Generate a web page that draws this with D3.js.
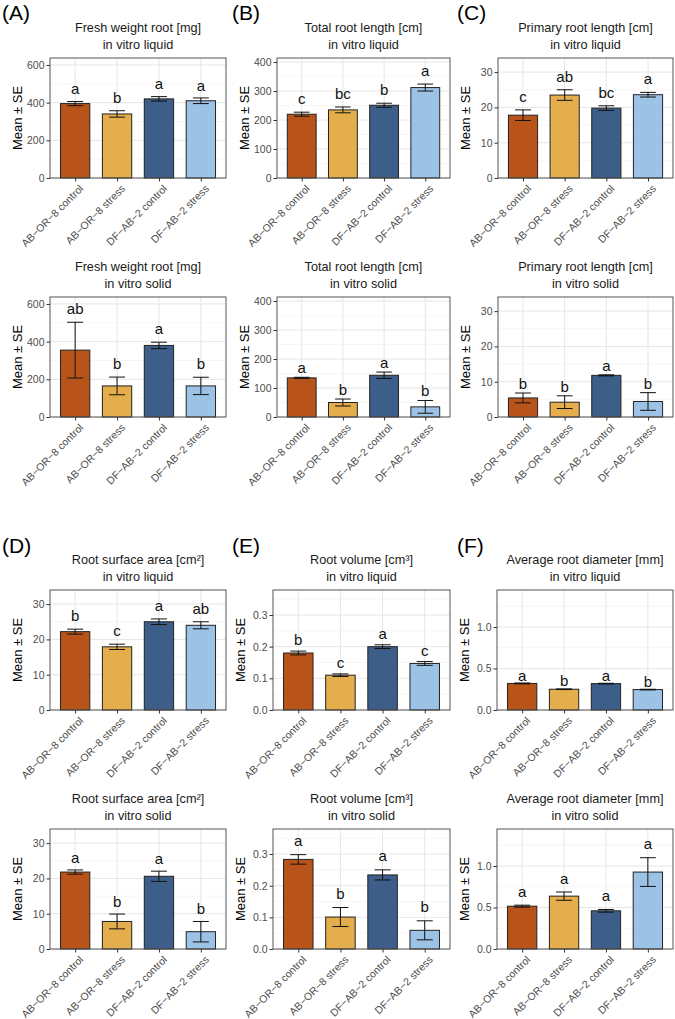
<!DOCTYPE html>
<html>
<head>
<meta charset="utf-8">
<script src="https://cdn.jsdelivr.net/npm/d3@7"></script>
<style>
  body { margin: 0; background: #fff; }
  svg { display: block; font-family: "Liberation Sans", Arial, sans-serif; }
</style>
</head>
<body>
<div id="root"></div>
<script>
// groups and colours
const groups = ["AB−OR−8 control", "AB−OR−8 stress", "DF−AB−2 control", "DF−AB−2 stress"]
const groupColors = ["#b8541a", "#e5ae4d", "#3c5e88", "#9cc2e6"]

// y axis ticks per variable
const freshTicks = [0, 200, 400, 600]
const totalTicks = [0, 100, 200, 300, 400]
const primaryTicks = [0, 10, 20, 30]
const surfaceTicks = [0, 10, 20, 30]
const volumeTicks = [0, 0.1, 0.2, 0.3]
const diameterTicks = [0, 0.5, 1.0]

// means, standard errors and letters
const freshLiquidMean = [395, 340, 420, 410]
const freshLiquidSE = [11, 17, 12, 15]
const freshLiquidLetters = ["a", "b", "a", "a"]
const freshSolidMean = [355, 165, 380, 165]
const freshSolidSE = [148, 47, 17, 46]
const freshSolidLetters = ["ab", "b", "a", "b"]

const totalLiquidMean = [220, 235, 251, 312]
const totalLiquidSE = [7, 10, 7, 12]
const totalLiquidLetters = ["c", "bc", "b", "a"]
const totalSolidMean = [135, 50, 144, 35]
const totalSolidSE = [2, 12, 11, 22]
const totalSolidLetters = ["a", "b", "a", "b"]

const primaryLiquidMean = [17.8, 23.5, 19.8, 23.6]
const primaryLiquidSE = [1.5, 1.5, 0.66, 0.66]
const primaryLiquidLetters = ["c", "ab", "bc", "a"]
const primarySolidMean = [5.4, 4.2, 11.8, 4.4]
const primarySolidSE = [1.4, 1.8, 0.15, 2.5]
const primarySolidLetters = ["b", "b", "a", "b"]

const surfaceLiquidMean = [22.2, 17.9, 25.0, 24.0]
const surfaceLiquidSE = [0.7, 0.75, 0.8, 1.0]
const surfaceLiquidLetters = ["b", "c", "a", "ab"]
const surfaceSolidMean = [21.8, 7.8, 20.6, 4.9]
const surfaceSolidSE = [0.6, 2.1, 1.45, 2.9]
const surfaceSolidLetters = ["a", "b", "a", "b"]

const volumeLiquidMean = [0.18, 0.11, 0.20, 0.147]
const volumeLiquidSE = [0.006, 0.004, 0.006, 0.006]
const volumeLiquidLetters = ["b", "c", "a", "c"]
const volumeSolidMean = [0.283, 0.101, 0.234, 0.059]
const volumeSolidSE = [0.015, 0.03, 0.016, 0.03]
const volumeSolidLetters = ["a", "b", "a", "b"]

const diameterLiquidMean = [0.32, 0.25, 0.318, 0.246]
const diameterLiquidSE = [0.005, 0.004, 0.004, 0.004]
const diameterLiquidLetters = ["a", "b", "a", "b"]
const diameterSolidMean = [0.516, 0.637, 0.46, 0.927]
const diameterSolidSE = [0.012, 0.05, 0.016, 0.173]
const diameterSolidLetters = ["a", "a", "a", "a"]

const conditions = ["in vitro liquid", "in vitro solid"]

// layout
const W = 675, H = 1019
const panelH = 120
const rowTops = [58, 297, 590, 829]
const colRight = [226, 450, 673]
const tagPos = [[2, 20, "(A)"], [232, 20, "(B)"], [457, 20, "(C)"], [2, 553, "(D)"], [232, 553, "(E)"], [457, 553, "(F)"]]

const variables = [
  { title: "Fresh weight root [mg]", col: 0, row: 0, left: 50, yMax: 637, ticks: freshTicks, fmt: d3.format("d"),
    sets: [[freshLiquidMean, freshLiquidSE, freshLiquidLetters], [freshSolidMean, freshSolidSE, freshSolidLetters]] },
  { title: "Total root length [cm]", col: 1, row: 0, left: 277, yMax: 414, ticks: totalTicks, fmt: d3.format("d"),
    sets: [[totalLiquidMean, totalLiquidSE, totalLiquidLetters], [totalSolidMean, totalSolidSE, totalSolidLetters]] },
  { title: "Primary root length [cm]", col: 2, row: 0, left: 498, yMax: 34, ticks: primaryTicks, fmt: d3.format("d"),
    sets: [[primaryLiquidMean, primaryLiquidSE, primaryLiquidLetters], [primarySolidMean, primarySolidSE, primarySolidLetters]] },
  { title: "Root surface area [cm²]", col: 0, row: 2, left: 50, yMax: 34, ticks: surfaceTicks, fmt: d3.format("d"),
    sets: [[surfaceLiquidMean, surfaceLiquidSE, surfaceLiquidLetters], [surfaceSolidMean, surfaceSolidSE, surfaceSolidLetters]] },
  { title: "Root volume [cm³]", col: 1, row: 2, left: 273, yMax: 0.379, ticks: volumeTicks, fmt: d3.format(".1f"),
    sets: [[volumeLiquidMean, volumeLiquidSE, volumeLiquidLetters], [volumeSolidMean, volumeSolidSE, volumeSolidLetters]] },
  { title: "Average root diameter [mm]", col: 2, row: 2, left: 497, yMax: 1.446, ticks: diameterTicks, fmt: d3.format(".1f"),
    sets: [[diameterLiquidMean, diameterLiquidSE, diameterLiquidLetters], [diameterSolidMean, diameterSolidSE, diameterSolidLetters]] },
]

const svg = d3.select("#root").append("svg")
  .attr("width", W)
  .attr("height", H)

svg.append("rect").attr("width", W).attr("height", H).attr("fill", "#fff")

// panel tags
svg.selectAll("text.tag")
  .data(tagPos)
  .join("text")
  .attr("class", "tag")
  .attr("x", d => d[0])
  .attr("y", d => d[1])
  .attr("font-size", 21)
  .attr("fill", "#000")
  .text(d => d[2])

function drawPanel(v, ci) {
  const [mean, se, letters] = v.sets[ci]
  const top = rowTops[v.row + ci]
  const left = v.left
  const right = colRight[v.col]
  const bottom = top + panelH

  const x = d3.scalePoint().domain(groups).range([left, right]).padding(0.6)
  const step = x.step()
  const barW = step * 0.7
  const capW = step * 0.38
  const y = d3.scaleLinear().domain([0, v.yMax]).range([bottom, top])

  const g = svg.append("g")

  // title
  g.append("text")
    .attr("x", (left + right) / 2).attr("y", top - 26)
    .attr("text-anchor", "middle").attr("font-size", 12.7).attr("fill", "#1a1a1a")
    .text(v.title)
  g.append("text")
    .attr("x", (left + right) / 2).attr("y", top - 9)
    .attr("text-anchor", "middle").attr("font-size", 12.7).attr("fill", "#1a1a1a")
    .text(conditions[ci])

  // grid
  const step0 = v.ticks[1] - v.ticks[0]
  const minor = d3.range(step0 / 2, v.yMax, step0)
  g.append("g").selectAll("line")
    .data(minor)
    .join("line")
    .attr("x1", left).attr("x2", right)
    .attr("y1", d => y(d)).attr("y2", d => y(d))
    .attr("stroke", "#f0f0f0").attr("stroke-width", 0.6)
  g.append("g").selectAll("line")
    .data(v.ticks)
    .join("line")
    .attr("x1", left).attr("x2", right)
    .attr("y1", d => y(d)).attr("y2", d => y(d))
    .attr("stroke", "#e6e6e6").attr("stroke-width", 1)
  g.append("g").selectAll("line")
    .data(groups)
    .join("line")
    .attr("x1", d => x(d)).attr("x2", d => x(d))
    .attr("y1", top).attr("y2", bottom)
    .attr("stroke", "#e6e6e6").attr("stroke-width", 1)

  // bars
  g.append("g").selectAll("rect")
    .data(groups)
    .join("rect")
    .attr("x", d => x(d) - barW / 2)
    .attr("width", barW)
    .attr("y", (d, i) => y(mean[i]))
    .attr("height", (d, i) => y(0) - y(mean[i]))
    .attr("fill", (d, i) => groupColors[i])
    .attr("stroke", "#222")
    .attr("stroke-width", 1)

  // error bars
  const eb = g.append("g").attr("stroke", "#111").attr("stroke-width", 1)
  groups.forEach((d, i) => {
    const cx = x(d)
    const lo = y(mean[i] - se[i]), hi = y(mean[i] + se[i])
    eb.append("line").attr("x1", cx).attr("x2", cx).attr("y1", lo).attr("y2", hi)
    eb.append("line").attr("x1", cx - capW / 2).attr("x2", cx + capW / 2).attr("y1", lo).attr("y2", lo)
    eb.append("line").attr("x1", cx - capW / 2).attr("x2", cx + capW / 2).attr("y1", hi).attr("y2", hi)
  })

  // letters
  const maxTop = d3.max(mean.map((m, i) => m + se[i]))
  g.append("g").selectAll("text")
    .data(groups)
    .join("text")
    .attr("x", d => x(d))
    .attr("y", (d, i) => y(mean[i] + se[i] + maxTop * 0.09))
    .attr("text-anchor", "middle")
    .attr("font-size", 15)
    .attr("fill", "#111")
    .text((d, i) => letters[i])

  // border
  g.append("rect")
    .attr("x", left).attr("y", top)
    .attr("width", right - left).attr("height", panelH)
    .attr("fill", "none").attr("stroke", "#555").attr("stroke-width", 1)

  // axes
  const yAxis = g.append("g")
    .attr("transform", `translate(${left},0)`)
    .call(d3.axisLeft(y).tickValues(v.ticks).tickFormat(v.fmt).tickSize(3.5).tickPadding(2))
  yAxis.select(".domain").remove()
  yAxis.selectAll(".tick line").attr("stroke", "#333")
  yAxis.selectAll(".tick text")
    .attr("fill", "#4d4d4d")
    .style("font-size", "10.5px")
    .style("font-family", "Liberation Sans, Arial, sans-serif")

  const xAxis = g.append("g")
    .attr("transform", `translate(0,${bottom})`)
    .call(d3.axisBottom(x).tickSize(3.5))
  xAxis.select(".domain").remove()
  xAxis.selectAll(".tick line").attr("stroke", "#333")
  xAxis.selectAll(".tick text")
    .attr("fill", "#4d4d4d")
    .style("font-size", "10.5px")
    .style("font-family", "Liberation Sans, Arial, sans-serif")
    .attr("text-anchor", "end")
    .attr("x", 0).attr("y", 0)
    .attr("dy", "0.71em")
    .attr("transform", "translate(3,6) rotate(-45)")

  // y axis title
  g.append("text")
    .attr("transform", `translate(${left - 28},${(top + bottom) / 2}) rotate(-90)`)
    .attr("text-anchor", "middle")
    .attr("font-size", 13)
    .attr("fill", "#000")
    .text("Mean ± SE")
}

variables.forEach(v => {
  drawPanel(v, 0)
  drawPanel(v, 1)
})
</script>
</body>
</html>
